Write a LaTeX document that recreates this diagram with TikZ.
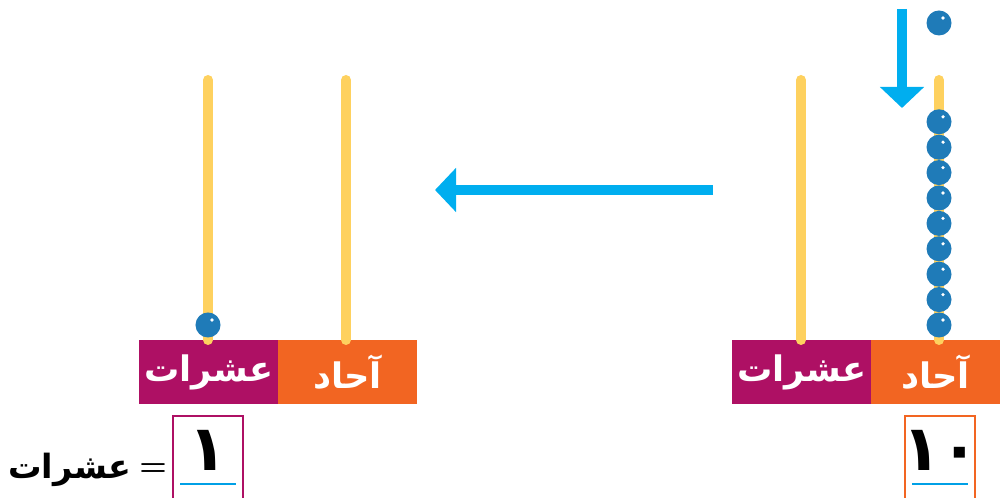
\documentclass[tikz,border=0pt]{standalone}
\usepackage{fontspec}
\newfontfamily\arabicfont[Script=Arabic]{DejaVu Sans}
\TeXXeTstate=1
\usetikzlibrary{arrows.meta, positioning}
\definecolor{tenspurple}{RGB}{174,16,100}
\definecolor{onesorange}{RGB}{242,101,34}
\definecolor{rodyellow}{RGB}{254,209,95}
\definecolor{beadblue}{RGB}{31,123,184}
\definecolor{arrowblue}{RGB}{0,174,239}
\definecolor{linkblue}{RGB}{0,160,230}

\begin{document}
\begin{tikzpicture}[x=0.01cm, y=-0.01cm,
        placelabel/.style={rectangle, minimum width=1.39cm, minimum height=0.64cm, inner sep=0pt, outer sep=0pt, text=white, font=\arabicfont\bfseries\fontsize{10}{10}\selectfont},
        rod/.style={line width=0.1cm, draw=rodyellow, line cap=round},
        bead/.style={circle, fill=beadblue, minimum size=0.25cm, inner sep=0pt,
            path picture={\fill[white] ([shift={(4,-5)}]path picture bounding box.center) circle (1.8);}},
        numbox/.style={rectangle, draw, line width=0.6pt, minimum width=0.7cm, minimum height=1.0cm, inner sep=0pt, anchor=north},
        digit/.style={font=\arabicfont\bfseries\fontsize{18}{18}\selectfont, inner sep=0pt},
        bigarrow/.style={-{Triangle[length=0.21cm, width=0.43cm]}, line width=0.1cm, draw=arrowblue}
    ]
        \useasboundingbox (0,0) rectangle (1000,498);

        % Left abacus
        \node[placelabel, fill=tenspurple, anchor=north west] (tensL) at (139,340) {\beginR عشرات\endR};
        \node[placelabel, fill=onesorange, right=0pt of tensL] (onesL) {\beginR آحاد\endR};
        \coordinate (tensLtop) at (208,80);
        \coordinate (onesLtop) at (346,80);
        \draw[rod] (tensLtop) -- (tensLtop |- tensL.north);
        \draw[rod] (onesLtop) -- (onesLtop |- onesL.north);
        \node[bead] (beadL) at (208,325) {};

        % Right abacus
        \node[placelabel, fill=tenspurple, anchor=north west] (tensR) at (732,340) {\beginR عشرات\endR};
        \node[placelabel, fill=onesorange, right=0pt of tensR, minimum width=1.29cm] (onesR) {\beginR آحاد\endR};
        \coordinate (tensRtop) at (801,80);
        \coordinate (onesRtop) at (939,80);
        \draw[rod] (tensRtop) -- (tensRtop |- tensR.north);
        \draw[rod] (onesRtop) -- (onesRtop |- onesR.north);
        \foreach \i in {0,...,8}
            \node[bead] (beadR\i) at (939,{325-25.4*\i}) {};
        \node[bead] (beadnew) at (939,23) {};

        % Arrows
        \coordinate (dropstart) at (902,9);
        \coordinate (dropend) at (902,108);
        \draw[bigarrow] (dropstart) -- (dropend);
        \coordinate (movestart) at (713,190);
        \coordinate (moveend) at (435,190);
        \draw[bigarrow] (movestart) -- (moveend);

        % Number boxes
        \node[numbox, draw=tenspurple] (boxL) at (208,415) {};
        \draw[linkblue, line width=0.7pt] (180,484) -- (236,484);
        \node[digit] (numL) at (208,450) {١};
        \node[numbox, draw=onesorange] (boxR) at (940,415) {};
        \draw[linkblue, line width=0.7pt] (912,484) -- (968,484);
        \node[digit] (numR) at (941,450) {١٠};

        \node[font=\bfseries\fontsize{8.5}{9}\selectfont, inner sep=0pt] (eq) at (153,470) {=};
        \node[font=\arabicfont\bfseries\fontsize{9.5}{10}\selectfont, left=2pt of eq, inner sep=0pt] (tenword) {\beginR عشرات\endR};
    \end{tikzpicture}
\end{document}
